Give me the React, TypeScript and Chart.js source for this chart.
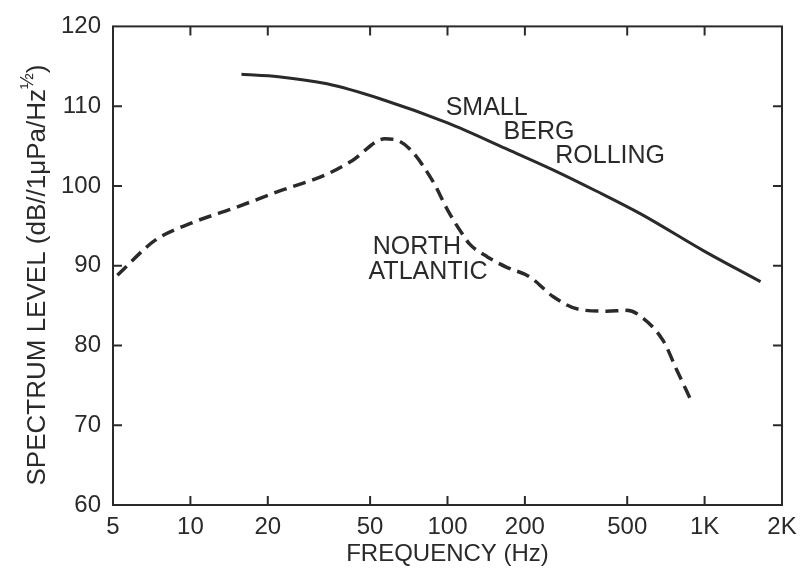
import React, { useEffect, useRef } from 'react';
import { Chart, registerables } from 'chart.js';

Chart.register(...registerables);

const FONT = '"Liberation Sans", Arial, sans-serif';
const INK = '#2a2a2a';

// Axis ticks
const xTickValues = [5, 10, 20, 50, 100, 200, 500, 1000, 2000];
const xTickLabels = ['5', '10', '20', '50', '100', '200', '500', '1K', '2K'];
const yTickValues = [60, 70, 80, 90, 100, 110, 120];

// Small berg rolling (solid)
const smallBergFreq = [15.8, 22, 34, 55, 100, 168, 262, 377, 564, 1000, 1650];
const smallBergLevel = [114.0, 113.7, 112.8, 110.9, 107.9, 104.7, 101.9, 99.4, 96.5, 91.8, 88.0];

// North Atlantic (dashed)
const northFreq = [5.2, 7.3, 10, 15, 22.4, 33.6, 42.7, 57, 64, 72, 88, 100, 112, 122, 143, 170, 209, 258, 327, 416, 498, 550, 690, 780, 880];
const northLevel = [88.8, 93.2, 95.3, 97.3, 99.4, 101.4, 103.2, 105.9, 105.7, 104.5, 100.5, 97.0, 94.4, 92.7, 91.1, 89.8, 88.6, 86.1, 84.5, 84.3, 84.4, 83.9, 80.6, 76.9, 73.3];

// In-plot labels (anchored at data coordinates)
const noteText = ['SMALL', 'BERG', 'ROLLING', 'NORTH', 'ATLANTIC'];
const noteFreq = [142, 227, 429, 76, 84];
const noteLevel = [109.8, 106.7, 103.7, 92.3, 89.2];

const Y_TITLE = 'SPECTRUM LEVEL (dB//1\u03BCPa/Hz';
const Y_TITLE_SUP = '\u00BD';
const Y_TITLE_END = ')';
const X_TITLE = 'FREQUENCY (Hz)';

const framePlugin = {
  id: 'frame',
  afterDraw(chart: any) {
    const { ctx, chartArea: a, scales } = chart;
    const xs = scales.x;
    const ys = scales.y;
    ctx.save();
    ctx.strokeStyle = INK;
    ctx.lineWidth = 2;
    ctx.strokeRect(a.left, a.top, a.right - a.left, a.bottom - a.top);
    const tl = 9;
    ctx.beginPath();
    xTickValues.slice(1, -1).forEach((v) => {
      const px = xs.getPixelForValue(v);
      ctx.moveTo(px, a.bottom);
      ctx.lineTo(px, a.bottom - tl);
      ctx.moveTo(px, a.top);
      ctx.lineTo(px, a.top + tl);
    });
    yTickValues.slice(1, -1).forEach((v) => {
      const py = ys.getPixelForValue(v);
      ctx.moveTo(a.left, py);
      ctx.lineTo(a.left + tl, py);
      ctx.moveTo(a.right, py);
      ctx.lineTo(a.right - tl, py);
    });
    ctx.stroke();

    // in-plot notes
    ctx.fillStyle = INK;
    ctx.font = `25px ${FONT}`;
    ctx.textAlign = 'center';
    ctx.textBaseline = 'middle';
    noteText.forEach((t, i) => {
      ctx.fillText(t, xs.getPixelForValue(noteFreq[i]), ys.getPixelForValue(noteLevel[i]));
    });

    // y title with superscript
    const fs = 26;
    const sfs = Math.round(fs * 0.72);
    ctx.font = `${fs}px ${FONT}`;
    const w1 = ctx.measureText(Y_TITLE).width;
    const w3 = ctx.measureText(Y_TITLE_END).width;
    ctx.font = `${sfs}px ${FONT}`;
    const w2 = ctx.measureText(Y_TITLE_SUP).width;
    const total = w1 + w2 + w3;
    ctx.translate(38, 275);
    ctx.rotate(-Math.PI / 2);
    ctx.textAlign = 'left';
    ctx.textBaseline = 'middle';
    let x0 = -total / 2;
    ctx.font = `${fs}px ${FONT}`;
    ctx.fillText(Y_TITLE, x0, 0);
    x0 += w1;
    ctx.font = `${sfs}px ${FONT}`;
    ctx.fillText(Y_TITLE_SUP, x0, -10);
    x0 += w2;
    ctx.font = `${fs}px ${FONT}`;
    ctx.fillText(Y_TITLE_END, x0, 0);
    ctx.restore();
  },
};

export default function App() {
  const ref = useRef<HTMLCanvasElement>(null);
  useEffect(() => {
    const chart = new Chart(ref.current as HTMLCanvasElement, {
      type: 'line',
      data: {
        datasets: [
          {
            label: 'Small berg rolling',
            data: smallBergFreq.map((f, i) => ({ x: f, y: smallBergLevel[i] })),
            borderColor: INK,
            borderWidth: 3,
            pointRadius: 0,
            cubicInterpolationMode: 'monotone',
            fill: false,
          },
          {
            label: 'North Atlantic',
            data: northFreq.map((f, i) => ({ x: f, y: northLevel[i] })),
            borderColor: INK,
            borderWidth: 3.5,
            borderDash: [13, 7],
            pointRadius: 0,
            cubicInterpolationMode: 'monotone',
            fill: false,
          },
        ],
      },
      options: {
        responsive: false,
        animation: false,
        layout: { padding: { top: 19, right: 24, bottom: 8, left: 0 } },
        plugins: { legend: { display: false }, tooltip: { enabled: false } },
        scales: {
          x: {
            type: 'logarithmic',
            min: 5,
            max: 2000,
            afterBuildTicks: (s: any) => {
              s.ticks = xTickValues.map((v) => ({ value: v }));
            },
            afterFit: (s: any) => {
              s.height = 64;
            },
            grid: { display: false, drawTicks: false },
            border: { display: false },
            ticks: {
              autoSkip: false,
              maxRotation: 0,
              padding: 8,
              color: INK,
              font: { family: FONT, size: 24 },
              callback: (_v: any, i: number) => xTickLabels[i],
            },
            title: {
              display: true,
              text: X_TITLE,
              color: INK,
              font: { family: FONT, size: 24 },
              padding: 0,
            },
          },
          y: {
            type: 'linear',
            min: 60,
            max: 120,
            afterBuildTicks: (s: any) => {
              s.ticks = yTickValues.map((v) => ({ value: v }));
            },
            afterFit: (s: any) => {
              s.width = 113;
            },
            grid: { display: false, drawTicks: false },
            border: { display: false },
            ticks: {
              padding: 12,
              color: INK,
              font: { family: FONT, size: 24 },
              callback: (v: any) => String(v),
            },
          },
        },
      },
      plugins: [framePlugin],
    } as any);
    return () => chart.destroy();
  }, []);
  return (
    <div style={{ position: 'absolute', left: 0, top: 0, width: 806, height: 577, background: '#fff' }}>
      <canvas ref={ref} width={806} height={577} style={{ display: 'block' }} />
    </div>
  );
}
